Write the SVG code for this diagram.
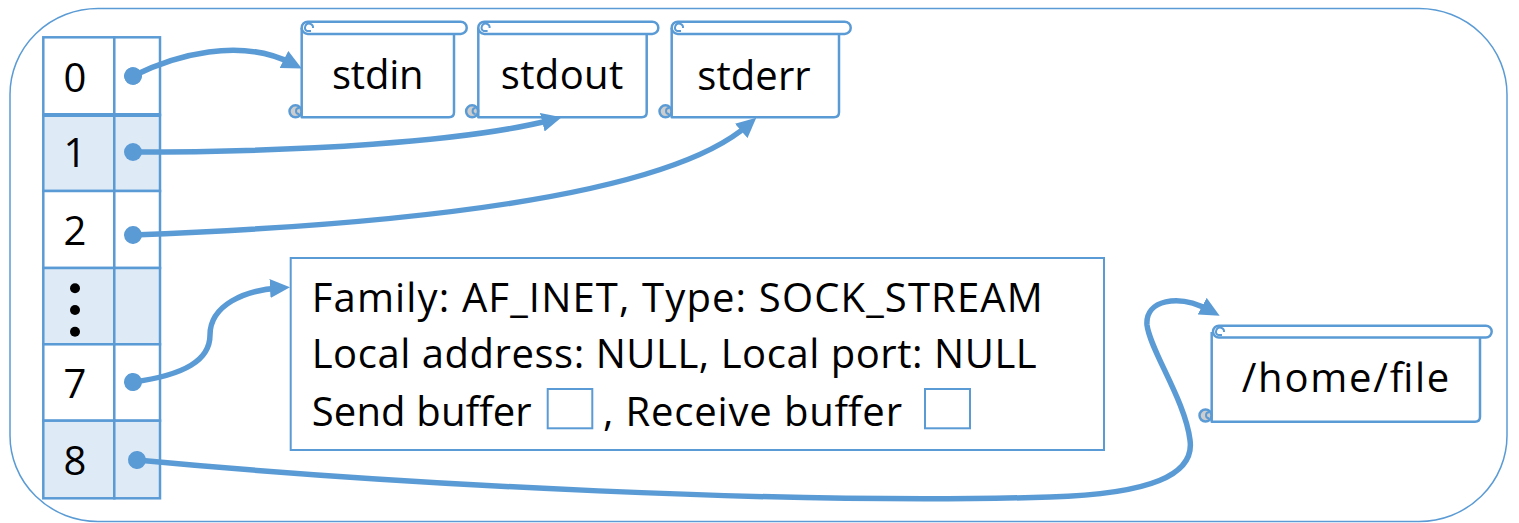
<svg xmlns="http://www.w3.org/2000/svg" width="1519" height="523" viewBox="0 0 1519 523">
  <style>
    .t { font-family: "Open Sans", "Noto Sans", sans-serif; font-size: 40px; fill: #000; }
    .cell { stroke: #5B9BD5; stroke-width: 2.5; }
    .w { fill: #FFFFFF; }
    .s { fill: #DEEBF7; }
    .sc { fill: #FFFFFF; stroke: #5B9BD5; stroke-width: 2.5; stroke-linejoin: round; }
    .curl { fill: #CDCDCD; stroke: #5B9BD5; stroke-width: 2.5; }
    .tc { fill: none; stroke: #5B9BD5; stroke-width: 2; }
    .conn { fill: none; stroke: #5B9BD5; stroke-width: 5.5; marker-start: url(#dot); marker-end: url(#arr); }
    .box { fill: #FFFFFF; stroke: #5B9BD5; stroke-width: 2; }
  </style>
  <defs>
    <marker id="arr" viewBox="0 0 20 19" refX="9" refY="9.5" markerWidth="20" markerHeight="19" markerUnits="userSpaceOnUse" orient="auto">
      <path d="M0,0 L20,9.5 L0,19 z" fill="#5B9BD5"/>
    </marker>
    <marker id="dot" viewBox="0 0 18 18" refX="9" refY="9" markerWidth="18" markerHeight="18" markerUnits="userSpaceOnUse" orient="auto">
      <circle cx="9" cy="9" r="9" fill="#5B9BD5"/>
    </marker>
  </defs>

  <g id="frame">
    <rect x="10" y="8.5" width="1497" height="513" rx="88" ry="86" fill="none" stroke="#5B9BD5" stroke-width="1.5"/>
  </g>

  <g id="fd-table">
    <rect class="cell w" x="43.3" y="37.3" width="71" height="77.7"/>
    <rect class="cell w" x="114.3" y="37.3" width="45.7" height="77.7"/>
    <rect class="cell s" x="43.3" y="115" width="71" height="76"/>
    <rect class="cell s" x="114.3" y="115" width="45.7" height="76"/>
    <rect class="cell w" x="43.3" y="191" width="71" height="77"/>
    <rect class="cell w" x="114.3" y="191" width="45.7" height="77"/>
    <rect class="cell s" x="43.3" y="268" width="71" height="76.3"/>
    <rect class="cell s" x="114.3" y="268" width="45.7" height="76.3"/>
    <rect class="cell w" x="43.3" y="344.3" width="71" height="76.4"/>
    <rect class="cell w" x="114.3" y="344.3" width="45.7" height="76.4"/>
    <rect class="cell s" x="43.3" y="420.7" width="71" height="77.6"/>
    <rect class="cell s" x="114.3" y="420.7" width="45.7" height="77.6"/>
    <line x1="43.3" y1="115" x2="160" y2="115" stroke="#5B9BD5" stroke-width="4"/>
    <text class="t" x="75" y="92" text-anchor="middle">0</text>
    <text class="t" x="75" y="166.5" text-anchor="middle">1</text>
    <text class="t" x="75" y="245" text-anchor="middle">2</text>
    <circle cx="75" cy="288.3" r="5" fill="#000"/>
    <circle cx="75" cy="310" r="5" fill="#000"/>
    <circle cx="75" cy="331.7" r="5" fill="#000"/>
    <text class="t" x="75" y="397.5" text-anchor="middle">7</text>
    <text class="t" x="75" y="474.5" text-anchor="middle">8</text>
  </g>

  <g id="stdin">
    <path class="sc" d="M301.7,28 V117.3 H449 Q454,117.3 454,112.3 V34"/>
    <rect class="sc" x="301.7" y="21.7" width="165" height="12.3" rx="6.1"/>
    <circle class="curl" cx="295.5" cy="111.3" r="6"/>
    <path class="tc" d="M299,108 A3,3 0 1 0 299,114"/>
    <path class="tc" d="M313,28 A4,4 0 1 0 307,31 H311"/>
    <text class="t" x="377.8" y="88.5" text-anchor="middle" textLength="91.6">stdin</text>
  </g>

  <g id="stdout">
    <path class="sc" d="M478.3,28 V117.3 H641.7 Q646.7,117.3 646.7,112.3 V34"/>
    <rect class="sc" x="478.3" y="21.7" width="180" height="12.3" rx="6.1"/>
    <circle class="curl" cx="472.1" cy="111.3" r="6"/>
    <path class="tc" d="M475.6,108 A3,3 0 1 0 475.6,114"/>
    <path class="tc" d="M489.6,28 A4,4 0 1 0 483.6,31 H487.6"/>
    <text class="t" x="562" y="88.5" text-anchor="middle" textLength="122.6">stdout</text>
  </g>

  <g id="stderr">
    <path class="sc" d="M671.7,28 V117.3 H834 Q839,117.3 839,112.3 V34"/>
    <rect class="sc" x="671.7" y="21.7" width="179" height="12.3" rx="6.1"/>
    <circle class="curl" cx="665.5" cy="111.3" r="6"/>
    <path class="tc" d="M669,108 A3,3 0 1 0 669,114"/>
    <path class="tc" d="M683,28 A4,4 0 1 0 677,31 H681"/>
    <text class="t" x="754" y="89.5" text-anchor="middle" textLength="113.4">stderr</text>
  </g>

  <g id="socket">
    <rect class="box" x="290.7" y="258" width="813.3" height="192"/>
    <text class="t" x="311.7" y="311.7" textLength="731">Family: AF_INET, Type: SOCK_STREAM</text>
    <text class="t" x="311.7" y="368.3" textLength="725">Local address: NULL, Local port: NULL</text>
    <text class="t" x="311.7" y="425.7" textLength="220">Send buffer</text>
    <rect class="box" x="547.7" y="389" width="44.6" height="39.3"/>
    <text class="t" x="603" y="425.7" textLength="299">, Receive buffer</text>
    <rect class="box" x="925" y="389" width="45" height="39.3"/>
  </g>

  <g id="file">
    <path class="sc" d="M1211.7,332 V421.7 H1475 Q1480,421.7 1480,416.7 V337.3"/>
    <rect class="sc" x="1213" y="325.7" width="278.7" height="11.8" rx="5.9"/>
    <circle class="curl" cx="1205.5" cy="415.5" r="6"/>
    <path class="tc" d="M1209,412.2 A3,3 0 1 0 1209,418.2"/>
    <path class="tc" d="M1224,332 A4,4 0 1 0 1218,335 H1222"/>
    <text class="t" x="1345.5" y="391.7" text-anchor="middle" textLength="207.6">/home/file</text>
  </g>

  <g id="connectors">
    <path class="conn" d="M133,76 C175,55 240,37 292,63.5"/>
    <path class="conn" d="M133,152 C300,152 465,142 551,120"/>
    <path class="conn" d="M133,235 C400,225 665,198 748,125"/>
    <path class="conn" d="M133,382 C185,375 210,360 210,335 C210,305 245,290 279,288"/>
    <path class="conn" d="M137,460 C400,485 800,505 1050,497 C1150,494 1195,475 1190,440 C1185,400 1150,350 1147,325 C1145,300 1178,293 1210,310.5"/>
  </g>
</svg>
